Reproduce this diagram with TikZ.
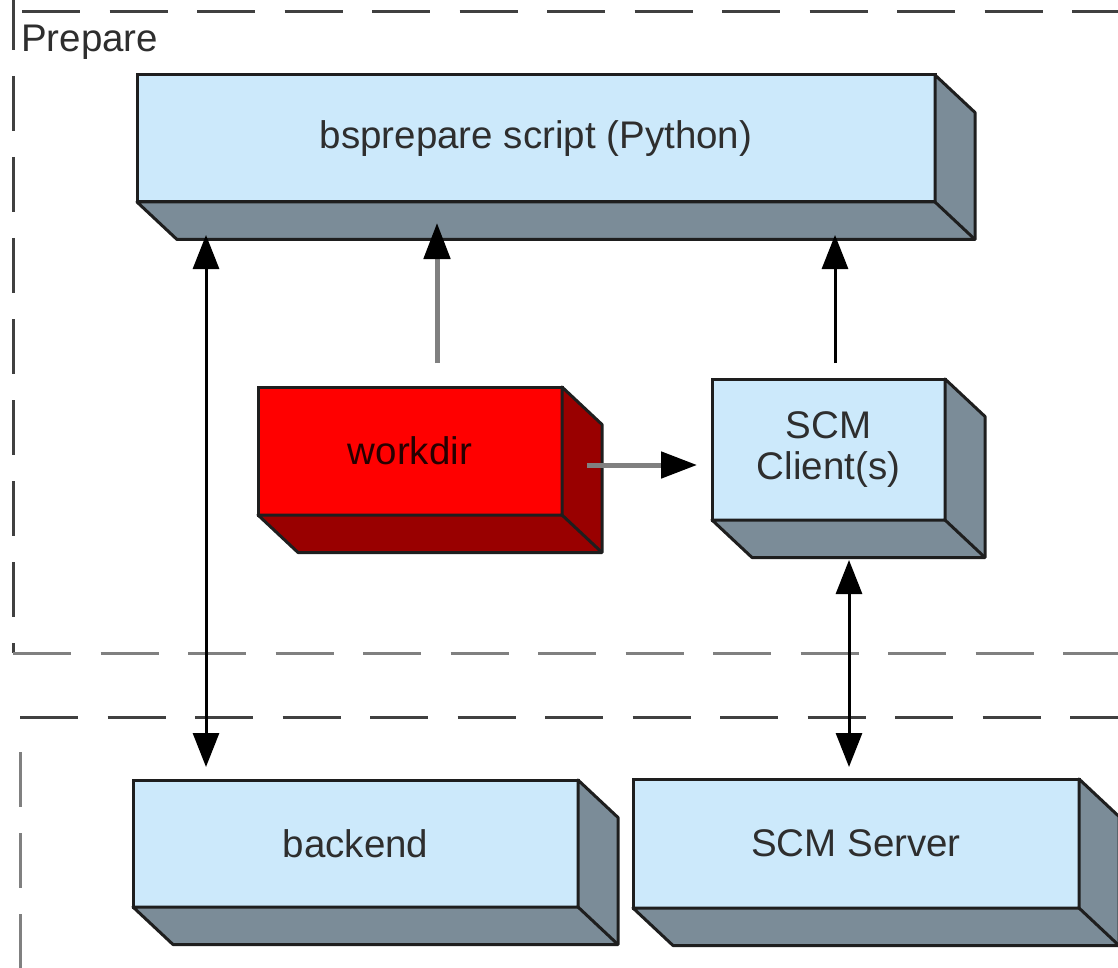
\documentclass[tikz,border=0pt]{standalone}
\usepackage{fontspec}
\setmainfont{Liberation Sans}
\usetikzlibrary{arrows.meta}
\definecolor{front}{HTML}{CCE9FB}
\definecolor{side}{HTML}{7B8C98}
\definecolor{redfront}{HTML}{FF0000}
\definecolor{redside}{HTML}{990000}
\definecolor{edge}{HTML}{1E1E1E}
\definecolor{txt}{HTML}{2E2E2E}
\definecolor{darkdash}{HTML}{404040}
\definecolor{lightdash}{HTML}{808080}
\newcommand\extrude[2]{%
  \draw[draw=edge,line width=3pt,fill=#2,line join=round]
    (#1.south west) -- ++(40,37.5) -| ([shift={(40,37.5)}]#1.north east)
    -- (#1.north east) -- (#1.south east) -- cycle;
  \draw[edge,line width=3pt] (#1.south east) -- ++(40,37.5);}
\begin{document}
\begin{tikzpicture}[x=1pt,y=-1pt,
  face/.style={draw=edge,line width=3pt,fill=front,inner sep=0pt,outer sep=0pt,
    align=center,text=txt,font=\fontsize{38.5}{41}\selectfont},
  redface/.style={face,fill=redfront,text=black!85!red},
  frameA/.style={darkdash,line width=3pt,dash pattern=on 58pt off 29.5pt},
  frameB/.style={lightdash,line width=3pt,dash pattern=on 58pt off 29.5pt},
  frameV/.style={line width=3pt,dash pattern=on 55pt off 26pt},
  tipb/.style={-{Triangle[length=34pt,width=26pt]}},
  dbl/.style={{Triangle[length=34pt,width=26pt]}-{Triangle[length=34pt,width=26pt]},black,line width=3pt},
  onearr/.style={-{Triangle[length=34pt,width=26pt]},black,line width=3pt},
  grayarr/.style={-{Triangle[length=36pt,width=26pt,color=black]},lightdash,line width=5pt}]
\useasboundingbox (0,0) rectangle (1118,968);
\fill[white] (0,0) rectangle (1118,968);
% frames
\coordinate (pTL) at (13,12);
\coordinate (pBL) at (13,653);
\coordinate (bTL) at (20,717);
\draw[frameA] ([xshift=9pt]pTL) -- (1118,12);
\draw[frameV,darkdash] ([yshift=17pt]pTL) -- (pBL);
\draw[frameB] (pBL) -- (1118,653);
\draw[frameA] (bTL) -- (1118,717);
\draw[frameV,lightdash] (bTL) ++(0,35) -- (20,968);
\node[anchor=base west,inner sep=0pt,text=txt,font=\fontsize{38.5}{41}\selectfont] (prep) at (21,52) {Prepare};
% boxes
\node[face,minimum width=798pt,minimum height=127pt] (bsp) at (536,138.5) {bsprepare script (Python)};
\extrude{bsp}{side}
\node[redface,minimum width=304pt,minimum height=128pt] (work) at (410,451) {workdir};
\extrude{work}{redside}
\node[face,minimum width=233pt,minimum height=141pt] (scmc) at (828.5,449.5) {SCM\\Client(s)};
\extrude{scmc}{side}
\node[face,minimum width=445pt,minimum height=127pt] (backend) at (355.5,843.5) {backend};
\extrude{backend}{side}
\node[face,minimum width=446pt,minimum height=129pt] (scms) at (856,843.5) {SCM Server};
\extrude{scms}{side}
% connectors
\draw[dbl] ([shift={(69,33)}]bsp.south west) -- ([shift={(73,-13)}]backend.north west);
\draw[grayarr] ([shift={(179,-24)}]work.north west) -- ([shift={(300,21)}]bsp.south west);
\draw[onearr] ([shift={(123,-16)}]scmc.north west) -- ([shift={(698,33)}]bsp.south west);
\draw[grayarr] ([shift={(25,-50)}]work.south east) -- ([shift={(-15,-55)}]scmc.south west);
\draw[dbl] ([shift={(137,40)}]scmc.south west) -- ([shift={(216,-12)}]scms.north west);
\end{tikzpicture}
\end{document}
